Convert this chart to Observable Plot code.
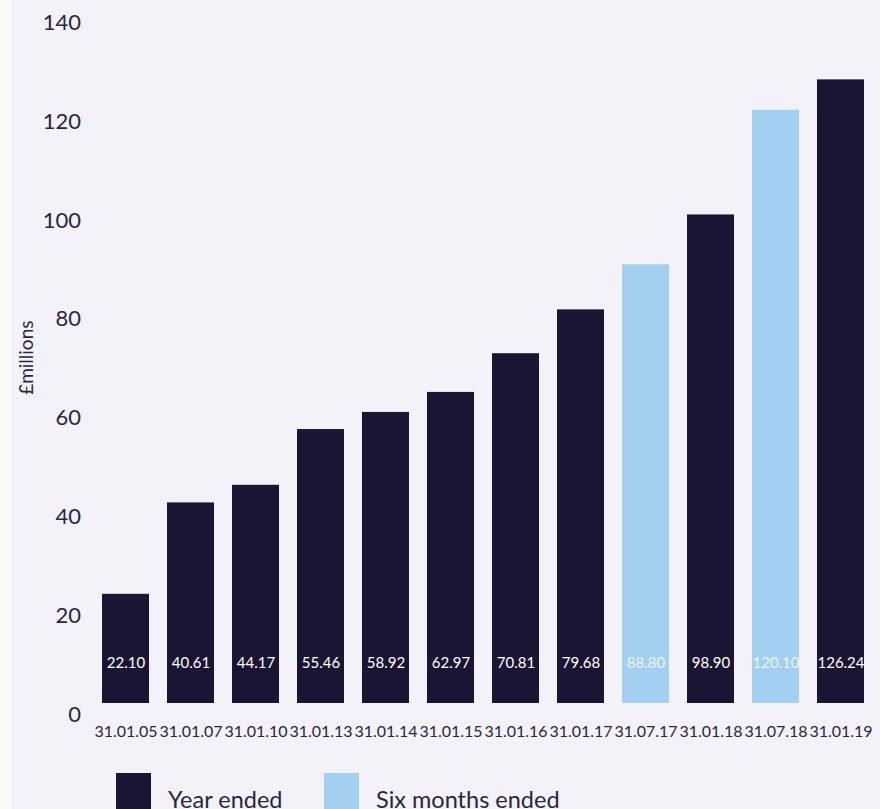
<!DOCTYPE html>
<html>
<head>
<meta charset="utf-8">
<script src="https://cdn.jsdelivr.net/npm/d3@7"></script>
<script src="https://cdn.jsdelivr.net/npm/@observablehq/plot@0.6"></script>
<style>
  html, body { margin: 0; padding: 0; background: #fafafb; overflow: hidden; }
  #wrap { position: absolute; left: 11px; top: 0; width: 869px; height: 809px; background: #f3f2f8; font-family: Lato, "Noto Sans", sans-serif; color: #221e38; }
  #legend { position: absolute; left: 0; top: 773px; width: 869px; height: 40px; }
  .sw { position: absolute; top: 0; width: 35px; height: 36px; }
  .lt { position: absolute; top: 12px; font-size: 23.5px; color: #2a2642; white-space: nowrap; }
</style>
</head>
<body>
<div id="wrap"><div id="chart"></div><div id="legend"></div></div>
<script>
const dates = ["31.01.05","31.01.07","31.01.10","31.01.13","31.01.14","31.01.15","31.01.16","31.01.17","31.07.17","31.01.18","31.07.18","31.01.19"];
const values = [22.10, 40.61, 44.17, 55.46, 58.92, 62.97, 70.81, 79.68, 88.80, 98.90, 120.10, 126.24];
const periods = ["Year ended","Year ended","Year ended","Year ended","Year ended","Year ended","Year ended","Year ended","Six months ended","Year ended","Six months ended","Year ended"];
const yTicks = [0, 20, 40, 60, 80, 100, 120, 140];
const seriesNames = ["Year ended", "Six months ended"];
const seriesColors = ["#1a1533", "#a3cff0"];

const data = dates.map((d, i) => ({date: d, value: values[i], period: periods[i]}));

const chart = Plot.plot({
  width: 869,
  height: 748,
  marginTop: 11.4,
  marginBottom: 45,
  marginLeft: 84.5,
  marginRight: 9.5,
  style: {background: "transparent", fontFamily: "Lato, 'Noto Sans', sans-serif", color: "#2a2642"},
  x: {domain: dates, paddingInner: 0.277, paddingOuter: 0.1, label: null},
  y: {domain: [0, 140], label: null},
  color: {domain: seriesNames, range: seriesColors},
  marks: [
    Plot.barY(data, {x: "date", y: "value", fill: "period"}),
    Plot.text(data, {x: "date", y: 0, dy: -40, text: d => d.value.toFixed(2), fill: d => d.period === "Year ended" ? "#ffffff" : "#eef5fc", fontSize: 15}),
    Plot.axisY({ticks: yTicks, tickSize: 0, tickPadding: 15, dy: 11, fontSize: 22, label: null}),
    Plot.axisX({tickSize: 0, tickPadding: 22, fontSize: 16, label: null}),
    Plot.text(["£millions"], {frameAnchor: "left", textAnchor: "middle", dx: -69, dy: 0, rotate: -90, fontSize: 19, fill: "#2a2642"})
  ]
});
document.getElementById("chart").appendChild(chart);

const legend = document.getElementById("legend");
const lefts = [105, 313];
seriesNames.forEach((name, i) => {
  const s = document.createElement("div");
  s.className = "sw"; s.style.left = lefts[i] + "px"; s.style.background = seriesColors[i];
  legend.appendChild(s);
  const t = document.createElement("div");
  t.className = "lt"; t.style.left = (lefts[i] + 52) + "px"; t.textContent = name;
  legend.appendChild(t);
});
</script>
</body>
</html>
